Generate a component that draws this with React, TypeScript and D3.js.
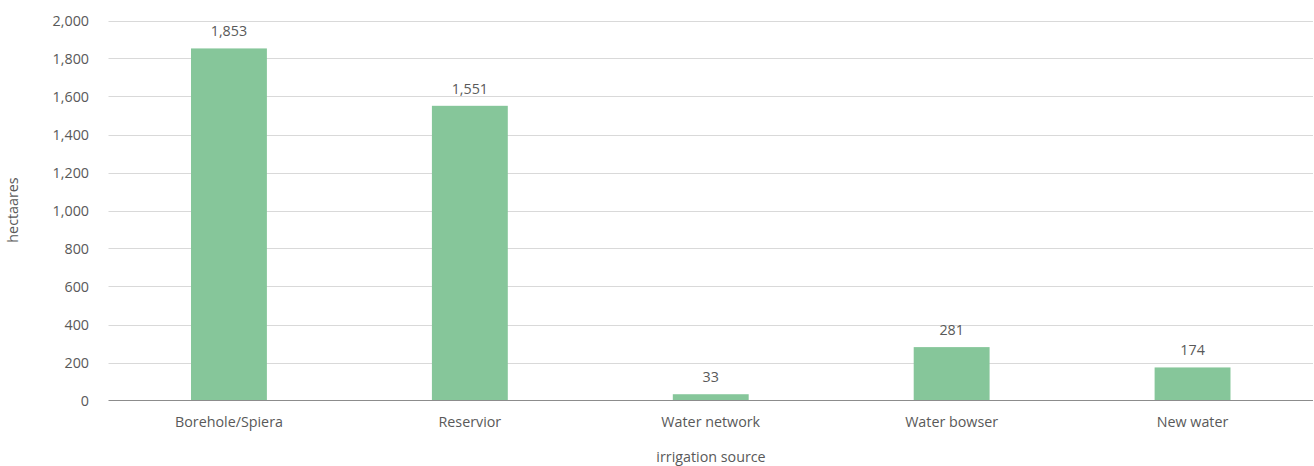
import React from "react";
import * as d3 from "d3";

const categories = ["Borehole/Spiera", "Reservior", "Water network", "Water bowser", "New water"];
const values = [1853, 1551, 33, 281, 174];
const yTicks = [0, 200, 400, 600, 800, 1000, 1200, 1400, 1600, 1800, 2000];

export default function App() {
  const W = 1314, H = 466;
  const left = 108.5, right = 1313, top = 20.5, bottom = 400.5;
  const gap = 0.685;
  const x = d3.scaleBand<string>().domain(categories).range([left, right]).paddingInner(gap).paddingOuter(gap / 2);
  const y = d3.scaleLinear().domain([0, 2000]).range([bottom, top]);
  const fmt = d3.format(",");
  const font = "'Open Sans', 'Noto Sans', sans-serif";
  const textColor = "#595959";
  const fs = 14.3;
  return (
    <svg width={W} height={H} style={{ position: "absolute", left: 0, top: 0, background: "#fff" }} fontFamily={font}>
      {yTicks.map((t) => (
        <g key={t}>
          {t !== 0 && <line x1={left} x2={right} y1={Math.round(y(t)) + 0.5} y2={Math.round(y(t)) + 0.5} stroke="#d9d9d9" strokeWidth={1} />}
          <text x={89} y={y(t)} dy="0.35em" textAnchor="end" fontSize={fs} fill={textColor}>{fmt(t)}</text>
        </g>
      ))}
      {categories.map((c, i) => (
        <g key={c}>
          <rect x={x(c)} y={y(values[i])} width={x.bandwidth()} height={y(0) - y(values[i])} fill="#86c69a" />
          <text x={(x(c) as number) + x.bandwidth() / 2} y={y(values[i]) - 12} textAnchor="middle" fontSize={fs} fill={textColor}>{fmt(values[i])}</text>
          <text x={(x(c) as number) + x.bandwidth() / 2} y={427} textAnchor="middle" fontSize={fs} fill={textColor}>{c}</text>
        </g>
      ))}
      <line x1={left} x2={right} y1={y(0)} y2={y(0)} stroke="#8c8c8c" strokeWidth={1} />
      <text x={711} y={461.5} textAnchor="middle" fontSize={fs} fill={textColor}>irrigation source</text>
      <text transform={`translate(18, 210) rotate(-90)`} textAnchor="middle" fontSize={fs} fill={textColor}>hectaares</text>
    </svg>
  );
}
